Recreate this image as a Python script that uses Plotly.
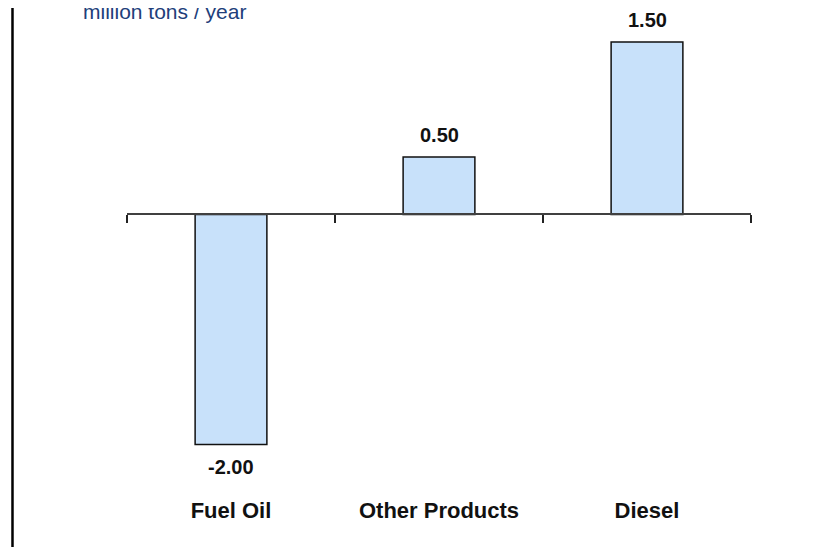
import plotly.graph_objects as go

# Change in product output
products = ["Fuel Oil", "Other Products", "Diesel"]
change = [-2.00, 0.50, 1.50]
unit_label = "million tons / year"

BAR_FILL = "#c8e1fa"
TITLE_BLUE = "#213e7a"

y_min, y_max = -2.439, 1.778
zero_pos = (0 - y_min) / (y_max - y_min)

fig = go.Figure()

fig.add_trace(go.Bar(
    x=products,
    y=change,
    width=0.345,
    marker=dict(color=BAR_FILL, line=dict(color="#111111", width=1.5)),
    hoverinfo="x+y",
))

# invisible helper trace so the zero-line axis gets drawn
fig.add_trace(go.Scatter(
    x=products, y=[0] * len(products), xaxis="x2",
    mode="markers", marker=dict(opacity=0), hoverinfo="skip", showlegend=False,
))

# value labels above / below bars
for p, v in zip(products, change):
    fig.add_annotation(
        x=p, y=v, text=f"<b>{v:.2f}</b>", showarrow=False,
        yanchor="bottom" if v > 0 else "top",
        yshift=9 if v > 0 else -9,
        font=dict(family="Liberation Sans, Arial", size=20, color="#111111"),
    )

fig.add_annotation(
    text=unit_label, xref="paper", yref="paper", x=-0.0735, y=0.970,
    xanchor="left", yanchor="bottom", showarrow=False,
    font=dict(family="Liberation Sans, Arial", size=21, color=TITLE_BLUE),
)

# left frame line
fig.add_shape(type="line", xref="paper", yref="paper", x0=-0.1835, x1=-0.1835, y0=-0.2, y1=1.2,
              line=dict(color="black", width=2.5))

fig.update_layout(
    width=829, height=547,
    margin=dict(l=119, r=86, t=2, b=60),
    paper_bgcolor="white", plot_bgcolor="white",
    showlegend=False,
    xaxis=dict(
        type="category", categoryorder="array", categoryarray=products,
        range=[-0.5, 2.5], showline=False, ticks="", showgrid=False, zeroline=False,
        tickfont=dict(family="Liberation Sans, Arial", size=22, color="#111111"),
        tickprefix="<b>", ticksuffix="</b>",
    ),
    xaxis2=dict(
        type="category", categoryorder="array", categoryarray=products,
        overlaying="x", matches="x", anchor="free", position=zero_pos, side="bottom",
        showline=True, linecolor="#404040", linewidth=2,
        ticks="outside", tickson="boundaries", ticklen=8, tickwidth=2, tickcolor="#222222",
        showticklabels=False, showgrid=False, zeroline=False,
    ),
    yaxis=dict(range=[y_min, y_max], visible=False, showgrid=False, zeroline=False),
)

fig.write_html("out.html")
